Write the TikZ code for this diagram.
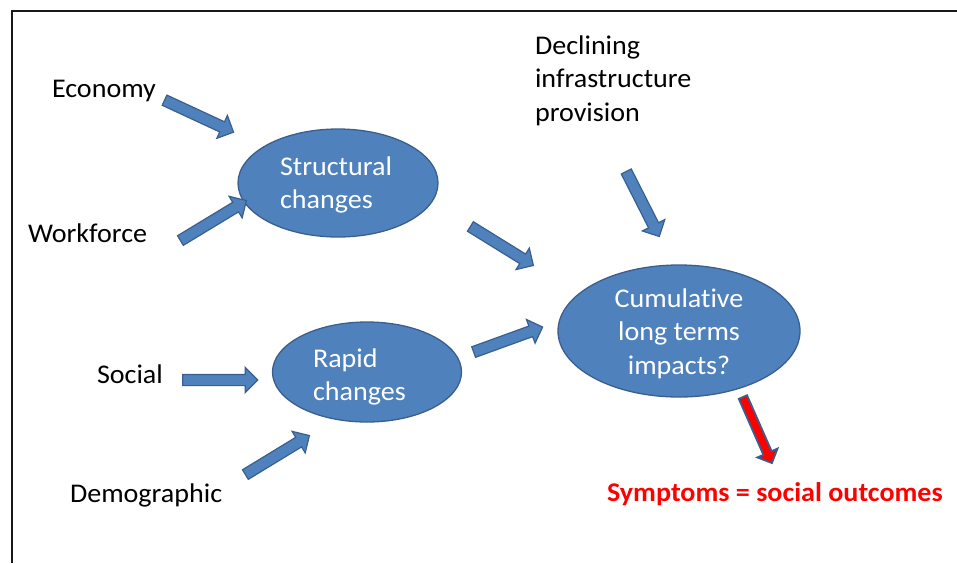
\documentclass[tikz,border=0pt]{standalone}
\usepackage{fontspec}
\setmainfont{Carlito}[FakeStretch=1.04, Ligatures=NoCommon]
\usetikzlibrary{shapes.geometric,shapes.arrows,calc}

\definecolor{accentblue}{HTML}{4F81BD}
\definecolor{accentedge}{HTML}{3A5F8E}
\definecolor{alertred}{HTML}{FF0000}

\tikzset{
  txt/.style={inner sep=0pt, outer sep=0pt, font=\fontsize{27}{33.5}\selectfont},
  blob/.style={ellipse, draw=accentedge, line width=1.3pt, fill=accentblue, inner sep=0pt},
  intxt/.style={txt, text=white},
  barrow/.style={single arrow, draw=accentedge, line width=1.2pt, fill=accentblue,
    inner sep=5pt, single arrow head extend=7pt, outer sep=0pt},
  redarrow/.style={barrow, fill=alertred, line width=1.8pt, inner sep=3.6pt,
    single arrow head extend=6.5pt},
  frame/.style={line width=1.6pt, draw=black!90}
}

% block arrow: [extra style]{name}{from}{to}
\newcommand\blockarrow[4][]{%
  \path let \p1=($(#4)-(#3)$), \n1={atan2(\y1,\x1)}, \n2={veclen(\x1,\y1)} in
    node[barrow,#1,minimum height=\n2,rotate=\n1] (#2) at ($(#3)!0.5!(#4)$) {};
}

\begin{document}
\begin{tikzpicture}[x=1pt,y=-1pt]
\useasboundingbox (0,0) rectangle (957,563);

% open frame (top and left edges)
\coordinate (fbl) at (12,563);
\coordinate (ftl) at (12,11);
\coordinate (ftr) at (957,11);
\draw[frame] (fbl) -- (ftl) -- (ftr);

% ellipses
\node[blob, minimum width=200pt, minimum height=108pt] (struct) at (338,183) {};
\node[blob, minimum width=189pt, minimum height=100pt] (rapid) at (367,372) {};
\node[blob, minimum width=242pt, minimum height=132pt] (cumul) at (679,331) {};

% ellipse texts
\node[intxt, anchor=west, align=left] (structtxt) at (280,185.05) {\strut Structural\\changes\strut};
\node[intxt, anchor=west, align=left] (rapidtxt) at (313,377.05) {\strut Rapid\\changes\strut};
\node[intxt, align=center] (cumultxt) at (679,333.8) {\strut Cumulative\\long terms\\impacts?\strut};

% driver labels
\node[txt, anchor=west] (economy) at (52,90.3) {\strut Economy\strut};
\node[txt, anchor=west] (workforce) at (28,235.3) {\strut Workforce\strut};
\node[txt, anchor=west] (social) at (97,376.3) {\strut Social\strut};
\node[txt, anchor=west] (demographic) at (70,495.3) {\strut Demographic\strut};
\node[txt, anchor=west, align=left] (infra) at (535,80.8) {\strut Declining\\infrastructure\\provision\strut};
\node[txt, anchor=west, text=alertred, font=\fontsize{27}{33.5}\selectfont\bfseries] (symptoms) at (607,494.3) {\strut Symptoms = social outcomes\strut};

% arrow end points
\coordinate (a1s) at (162,99);   \coordinate (a1e) at (231,131);
\coordinate (a2s) at (178,242);  \coordinate (a2e) at (244,202);
\coordinate (a3s) at (468,225);  \coordinate (a3e) at (531,264);
\coordinate (a4s) at (471,353);  \coordinate (a4e) at (540,328);
\coordinate (a5s) at (625,169);  \coordinate (a5e) at (658,234);
\coordinate (a6s) at (180,380);  \coordinate (a6e) at (255,380);
\coordinate (a7s) at (243,476);  \coordinate (a7e) at (307,437);
\coordinate (a8s) at (742,395);  \coordinate (a8e) at (771,461);

% arrows
\blockarrow{econarrow}{a1s}{a1e}
\blockarrow{workarrow}{a2s}{a2e}
\blockarrow{structarrow}{a3s}{a3e}
\blockarrow{rapidarrow}{a4s}{a4e}
\blockarrow{infraarrow}{a5s}{a5e}
\blockarrow{socialarrow}{a6s}{a6e}
\blockarrow{demoarrow}{a7s}{a7e}
\blockarrow[redarrow]{outarrow}{a8s}{a8e}
\end{tikzpicture}
\end{document}
